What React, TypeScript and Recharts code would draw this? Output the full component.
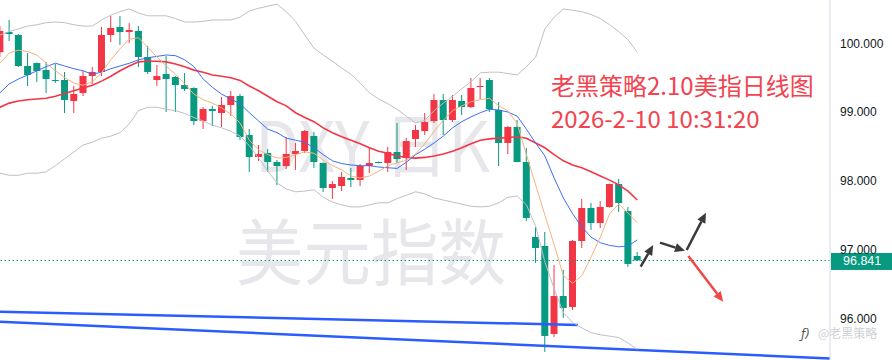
import React from 'react';
import { ComposedChart, Bar, Line, XAxis, YAxis, ReferenceLine } from 'recharts';

// DXY daily candles (open / high / low / close)
const opens = [
  99.87, 100.164, 100.121, 99.67, 99.713, 99.612, 99.466, 99.466, 99.161, 99.277,
  99.524, 99.583, 100.121, 100.237, 100.164, 100.179, 99.801, 99.466, 99.553, 99.51,
  99.393, 99.35, 98.869, 99.044, 98.986, 99.103, 99.233, 98.666, 98.346, 98.404,
  98.273, 98.215, 98.39, 98.433, 98.652, 98.259, 97.895, 97.924, 98.041, 98.012,
  98.215, 98.273, 98.259, 98.419, 98.332, 98.608, 98.724, 98.869, 99.175, 98.884,
  99.161, 99.073, 99.364, 99.466, 99.03, 98.55, 98.783, 98.273, 97.183, 97.052,
  95.772, 96.324, 96.164, 97.124, 97.604, 97.386, 97.619, 97.953, 97.561, 96.906,
];
const highs = [
  100.25, 100.339, 100.135, 99.859, 99.72, 99.728, 99.699, 99.583, 99.379, 99.597,
  99.655, 100.237, 100.397, 100.397, 100.295, 100.252, 99.961, 99.684, 99.815, 99.524,
  99.568, 99.36, 99.073, 99.088, 99.219, 99.306, 99.263, 98.753, 98.521, 98.462,
  98.303, 98.637, 98.55, 98.739, 98.71, 98.265, 97.997, 98.128, 98.186, 98.244,
  98.492, 98.28, 98.492, 98.841, 98.623, 98.812, 98.986, 99.263, 99.263, 99.248,
  99.248, 99.495, 99.495, 99.495, 99.146, 98.797, 98.884, 98.477, 97.328, 97.255,
  96.775, 96.703, 97.139, 97.735, 97.677, 97.706, 97.96, 98.026, 97.619, 96.964,
];
const lows = [
  99.8, 100.033, 99.655, 99.379, 99.437, 99.277, 99.423, 98.986, 98.986, 99.233,
  99.408, 99.524, 100.019, 99.975, 100.004, 99.655, 99.553, 99.379, 99.001, 99.001,
  99.306, 98.811, 98.753, 98.797, 98.783, 98.943, 98.593, 98.128, 98.288, 98.128,
  97.938, 98.171, 98.157, 98.404, 98.186, 97.837, 97.735, 97.852, 97.909, 97.924,
  98.113, 98.255, 98.128, 98.259, 98.157, 98.492, 98.666, 98.841, 98.666, 98.855,
  98.957, 99.059, 99.19, 99.001, 98.215, 98.39, 98.27, 97.415, 96.805, 95.51,
  95.728, 96.005, 96.121, 97.022, 97.284, 97.313, 97.61, 97.546, 96.746, 96.835,
];
const closes = [
  100.18, 100.135, 99.67, 99.539, 99.597, 99.481, 99.452, 99.175, 99.263, 99.524,
  99.583, 100.121, 100.223, 100.164, 100.193, 99.801, 99.583, 99.524, 99.481, 99.393,
  99.335, 98.869, 99.044, 99.015, 99.103, 99.233, 98.637, 98.346, 98.39, 98.273,
  98.215, 98.39, 98.433, 98.724, 98.273, 97.895, 97.953, 98.055, 98.012, 98.215,
  98.259, 98.259, 98.419, 98.317, 98.579, 98.739, 98.855, 99.175, 98.884, 99.175,
  99.073, 99.35, 99.379, 99.044, 98.55, 98.783, 98.273, 97.459, 97.022, 95.743,
  96.324, 96.15, 97.124, 97.604, 97.386, 97.619, 97.953, 97.677, 96.79, 96.841,
];

// indicator lines, one value per candle
const bbUpper = [
  100.12, 100.17, 100.21, 100.25, 100.27, 100.3, 100.31, 100.3, 100.27, 100.25,
  100.25, 100.34, 100.41, 100.46, 100.5, 100.44, 100.4, 100.4, 100.4, 100.36,
  100.31, 100.31, 100.32, 100.34, 100.34, 100.34, 100.38, 100.47, 100.51, 100.54,
  100.57, 100.46, 100.32, 100.12, 99.93, 99.83, 99.74, 99.64, 99.55, 99.42,
  99.28, 99.19, 99.12, 99.04, 98.94, 98.84, 98.88, 99.02, 99.13, 99.23,
  99.34, 99.44, 99.57, 99.58, 99.58, 99.56, 99.54, 99.66, 99.8, 100.21,
  100.38, 100.5, 100.48, 100.46, 100.42, 100.36, 100.27, 100.17, 100.05, 99.87,
];
const bbLower = [
  98.11, 98.08, 98.08, 98.11, 98.11, 98.13, 98.22, 98.32, 98.42, 98.52,
  98.56, 98.62, 98.65, 98.7, 98.83, 99.02, 99.07, 99.07, 99.04, 99.02,
  98.98, 98.92, 98.87, 98.81, 98.77, 98.72, 98.65, 98.51, 98.33, 98.14,
  97.97, 97.88, 97.84, 97.85, 97.87, 97.76, 97.69, 97.65, 97.62, 97.62,
  97.65, 97.68, 97.68, 97.74, 97.79, 97.84, 97.81, 97.75, 97.72, 97.69,
  97.66, 97.63, 97.62, 97.63, 97.68, 97.76, 97.78, 97.65, 97.34, 96.82,
  96.43, 96.08, 95.94, 95.86, 95.79, 95.76, 95.74, 95.72, 95.64, 95.55,
];
const maRed = [
  99.07, 99.13, 99.16, 99.18, 99.19, 99.2, 99.23, 99.27, 99.31, 99.35,
  99.39, 99.45, 99.52, 99.6, 99.67, 99.73, 99.74, 99.74, 99.73, 99.7,
  99.66, 99.61, 99.58, 99.54, 99.52, 99.5, 99.46, 99.38, 99.31, 99.23,
  99.15, 99.09, 98.99, 98.92, 98.86, 98.77, 98.7, 98.64, 98.59, 98.54,
  98.48, 98.43, 98.4, 98.36, 98.34, 98.33, 98.34, 98.36, 98.39, 98.43,
  98.48, 98.54, 98.59, 98.61, 98.62, 98.63, 98.64, 98.62, 98.55, 98.48,
  98.38, 98.29, 98.23, 98.19, 98.13, 98.07, 98.01, 97.94, 97.85, 97.72,
];
const maBlue = [
  99.28, 99.41, 99.48, 99.54, 99.6, 99.66, 99.71, 99.67, 99.63, 99.6,
  99.55, 99.58, 99.63, 99.67, 99.71, 99.76, 99.79, 99.81, 99.83, 99.82,
  99.76, 99.66, 99.48, 99.36, 99.26, 99.19, 99.12, 98.99, 98.87, 98.75,
  98.7, 98.62, 98.59, 98.56, 98.48, 98.38, 98.29, 98.25, 98.23, 98.22,
  98.22, 98.2, 98.19, 98.18, 98.27, 98.38, 98.46, 98.55, 98.65, 98.77,
  98.86, 98.93, 98.99, 99.04, 99.03, 99.0, 98.94, 98.75, 98.55, 98.36,
  98.04, 97.75, 97.52, 97.33, 97.18, 97.1, 97.06, 97.04, 97.05, 97.14,
];
const maOrange = [
  99.71, 99.86, 99.9, 99.88, 99.83, 99.71, 99.6, 99.5, 99.42, 99.39,
  99.44, 99.57, 99.76, 99.92, 100.06, 100.08, 99.94, 99.8, 99.67, 99.55,
  99.41, 99.26, 99.18, 99.13, 99.06, 98.97, 98.84, 98.59, 98.45, 98.38,
  98.33, 98.34, 98.38, 98.42, 98.4, 98.3, 98.22, 98.16, 98.07, 98.04,
  98.07, 98.14, 98.22, 98.26, 98.3, 98.39, 98.54, 98.72, 98.88, 99.02,
  99.09, 99.15, 99.18, 99.2, 99.09, 99.02, 98.83, 98.38, 97.94, 97.5,
  97.07, 96.62, 96.51, 96.62, 96.89, 97.18, 97.52, 97.66, 97.53, 97.39,
];

const yTicks = [96, 97, 98, 99, 100];
const lastPrice = 96.841;

// hand-drawn trend lines and arrows, as [candle index, price] pairs
const trendLines = [
  [[0, 96.096], [62.58, 95.903]],
  [[0, 95.951], [89.87, 95.415]],
];
const arrows = [
  { from: [69.37, 96.751], to: [70.73, 97.066], color: '#3a3a3a' },
  { from: [71.46, 97.1], to: [74.17, 96.983], color: '#3a3a3a' },
  { from: [74.35, 96.993], to: [76.44, 97.536], color: '#3a3a3a' },
  { from: [74.53, 96.906], to: [78.31, 96.241], color: '#f04848' },
];

const UP = '#f23645';
const DOWN = '#089981';

const data = opens.map((o, i) => ({
  i,
  open: o,
  high: highs[i],
  low: lows[i],
  close: closes[i],
  range: [lows[i], highs[i]],
  bbU: bbUpper[i],
  bbL: bbLower[i],
  red: maRed[i],
  blue: maBlue[i],
  orange: maOrange[i],
}));

function Candle(props: any) {
  const { x, y, width, height, payload } = props;
  if (x == null || payload == null) return null;
  const top = Math.min(y, y + height);
  const h = Math.abs(height);
  const { open, close, high, low } = payload;
  const color = close >= open ? UP : DOWN;
  const k = high === low ? 0 : h / (high - low);
  const bTop = top + (high - Math.max(open, close)) * k;
  const bBot = top + (high - Math.min(open, close)) * k;
  const cx = x + width / 2;
  return (
    <g>
      <line x1={cx} x2={cx} y1={top} y2={top + h} stroke={color} strokeWidth={1} />
      <rect x={x} y={bTop} width={width} height={Math.max(1, bBot - bTop)} fill={color} />
    </g>
  );
}

const arrowShape = (color: string) => (props: any) => {
  const { x1, y1, x2, y2 } = props;
  const a = Math.atan2(y2 - y1, x2 - x1);
  const len = 10;
  const half = 4.5;
  const bx = x2 - len * Math.cos(a);
  const by = y2 - len * Math.sin(a);
  const pts = `${x2},${y2} ${bx - half * Math.sin(a)},${by + half * Math.cos(a)} ${bx + half * Math.sin(a)},${by - half * Math.cos(a)}`;
  return (
    <g>
      <line x1={x1} y1={y1} x2={bx} y2={by} stroke={color} strokeWidth={2.5} />
      <polygon points={pts} fill={color} />
    </g>
  );
};

const PriceTag = (props: any) => {
  const vb = props.viewBox;
  if (!vb) return null;
  const x = vb.x + vb.width;
  return (
    <g>
      <rect x={x + 1} y={vb.y - 7.5} width={61} height={17} fill={DOWN} />
      <text x={x + 13} y={vb.y + 5} fill="#fff" fontSize={12.5} fontFamily="'Liberation Sans', Arial, sans-serif">
        {lastPrice.toFixed(3)}
      </text>
    </g>
  );
};

const lineCommon = { type: 'linear' as const, dot: false, activeDot: false, isAnimationActive: false };

export default function App() {
  return (
    <div
      style={{
        position: 'absolute',
        left: 0,
        top: 0,
        width: 892,
        height: 360,
        background: '#fff',
        fontFamily: "'Liberation Sans', Arial, sans-serif",
        overflow: 'hidden',
      }}
    >
      {/* watermark behind the chart */}
      <svg width={892} height={360} style={{ position: 'absolute', left: 0, top: 0 }}>
        <text x={255} y={172} fontSize={70} fill="#e7e7eb" fontFamily="'Noto Sans CJK SC', sans-serif" textLength={235} lengthAdjust="spacingAndGlyphs">
          DXY 日K
        </text>
        <text x={236} y={279} fontSize={72} fill="#e7e7eb" fontFamily="'Noto Sans CJK SC', sans-serif" textLength={270} lengthAdjust="spacingAndGlyphs">
          美元指数
        </text>
      </svg>

      <div style={{ position: 'absolute', left: 0, top: 0 }}>
        <ComposedChart width={892} height={360} data={data} margin={{ top: 0, right: 0, bottom: 0, left: 0 }}>
          <XAxis dataKey="i" type="number" domain={[0, 89.87]} allowDataOverflow hide />
          <YAxis
            orientation="right"
            width={62}
            domain={[95.393, 100.63]}
            allowDataOverflow
            ticks={yTicks}
            tickFormatter={(v: number) => v.toFixed(3)}
            tickLine={false}
            tickMargin={4}
            axisLine={{ stroke: '#d6d9e3' }}
            tick={{ fill: '#131722', fontSize: 12 }}
          />

          {trendLines.map((seg, k) => (
            <ReferenceLine
              key={`t${k}`}
              segment={[{ x: seg[0][0], y: seg[0][1] }, { x: seg[1][0], y: seg[1][1] }]}
              stroke="#2a5cff"
              strokeWidth={2.5}
              ifOverflow="visible"
            />
          ))}

          <Line dataKey="bbU" stroke="#bfc0c8" strokeWidth={1} {...lineCommon} />
          <Line dataKey="bbL" stroke="#bfc0c8" strokeWidth={1} {...lineCommon} />
          <Line dataKey="red" stroke="#f23645" strokeWidth={1.6} {...lineCommon} />
          <Line dataKey="blue" stroke="#3d6ef5" strokeWidth={1} {...lineCommon} />
          <Line dataKey="orange" stroke="#f6b27e" strokeWidth={1} {...lineCommon} />

          <Bar dataKey="range" barSize={7} shape={<Candle />} isAnimationActive={false} />

          <ReferenceLine
            y={lastPrice}
            stroke={DOWN}
            strokeDasharray="1.5 2.5"
            label={(p: any) => <PriceTag {...p} />}
          />

          {arrows.map((a, k) => (
            <ReferenceLine
              key={`a${k}`}
              segment={[{ x: a.from[0], y: a.from[1] }, { x: a.to[0], y: a.to[1] }]}
              ifOverflow="visible"
              shape={arrowShape(a.color)}
            />
          ))}
        </ComposedChart>
      </div>

      {/* annotation text on top */}
      <svg width={892} height={360} style={{ position: 'absolute', left: 0, top: 0, pointerEvents: 'none' }}>
        <text x={551} y={95} fontSize={24} fill="#f2434f" fontFamily="'Noto Sans CJK SC', sans-serif">
          老黑策略2.10美指日线图
        </text>
        <text x={551} y={128} fontSize={24} fill="#f2434f" fontFamily="'Noto Sans CJK SC', sans-serif">
          2026-2-10 10:31:20
        </text>
        <text x={801} y={338} fontSize={12} fill="#555" fontStyle="italic" fontFamily="'DejaVu Sans', sans-serif">
          ƒ)
        </text>
        <text x={818} y={338} fontSize={12} fill="#cfcfd4" fontFamily="'Noto Sans CJK SC', sans-serif">
          @老黑策略
        </text>
      </svg>
    </div>
  );
}
